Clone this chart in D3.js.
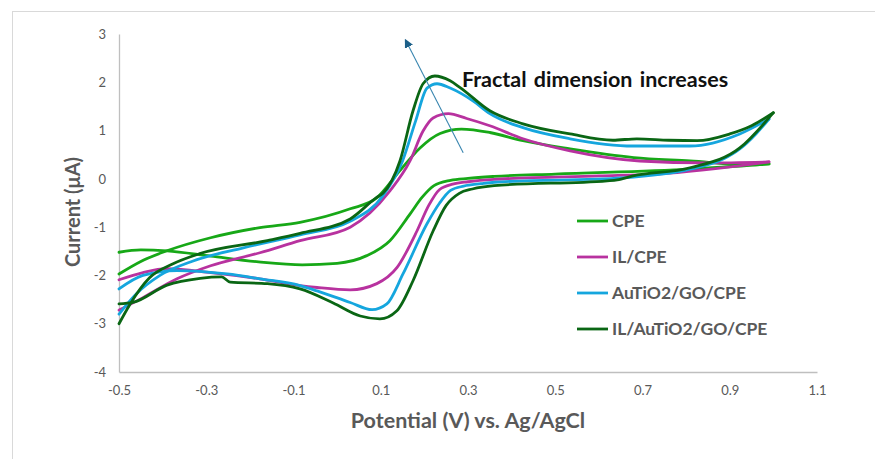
<!DOCTYPE html>
<html>
<head>
<meta charset="utf-8">
<script src="https://cdn.jsdelivr.net/npm/d3@7"></script>
<style>
  body { margin: 0; background: #fff; }
  svg { display: block; }
</style>
</head>
<body>
<div id="chart"></div>
<script>
// cyclic voltammograms: forward (anodic) and reverse (cathodic) branches, [E (V), I (uA)]
const seriesNames = ['CPE', 'IL/CPE', 'AuTiO2/GO/CPE', 'IL/AuTiO2/GO/CPE'];
const seriesColors = ['#17a817', '#b8329f', '#15a6de', '#0a6614'];

const cpeForward = [[-0.5,-1.97],[-0.45,-1.71],[-0.39,-1.49],[-0.29,-1.22],[-0.177,-1.01],[-0.085,-0.9],[0.03,-0.62],[0.09,-0.4],[0.144,0.17],[0.19,0.64],[0.236,0.94],[0.285,1.03],[0.35,0.96],[0.426,0.79],[0.534,0.62],[0.68,0.44],[0.809,0.37],[0.946,0.29],[0.99,0.31]];
const cpeReverse = [[-0.5,-1.52],[-0.45,-1.47],[-0.39,-1.49],[-0.29,-1.6],[-0.18,-1.72],[-0.08,-1.78],[0.0,-1.75],[0.068,-1.59],[0.121,-1.28],[0.167,-0.73],[0.195,-0.38],[0.222,-0.14],[0.26,-0.03],[0.3,0.01],[0.36,0.05],[0.5,0.1],[0.809,0.2],[0.99,0.31]];

const ilForward = [[-0.5,-2.72],[-0.445,-2.46],[-0.367,-2.07],[-0.29,-1.8],[-0.177,-1.53],[-0.085,-1.28],[0.03,-1.0],[0.121,-0.25],[0.167,0.37],[0.197,0.99],[0.22,1.26],[0.255,1.35],[0.297,1.25],[0.35,1.1],[0.426,0.83],[0.534,0.58],[0.694,0.37],[0.848,0.33],[0.99,0.35]];
const ilReverse = [[-0.5,-2.09],[-0.445,-1.94],[-0.39,-1.86],[-0.29,-1.94],[-0.177,-2.07],[-0.085,-2.21],[-0.046,-2.25],[0.03,-2.3],[0.091,-2.17],[0.137,-1.84],[0.183,-1.08],[0.21,-0.55],[0.235,-0.22],[0.265,-0.11],[0.3,-0.06],[0.36,-0.01],[0.6,0.06],[0.733,0.1],[0.99,0.35]];

const auForward = [[-0.5,-2.8],[-0.46,-2.38],[-0.406,-2.0],[-0.33,-1.7],[-0.215,-1.43],[-0.085,-1.16],[0.03,-0.88],[0.105,-0.35],[0.15,0.37],[0.18,1.2],[0.206,1.88],[0.229,1.97],[0.259,1.88],[0.312,1.61],[0.35,1.35],[0.426,1.06],[0.534,0.83],[0.678,0.68],[0.809,0.68],[0.923,0.93],[0.99,1.24]];
const auReverse = [[-0.5,-2.28],[-0.445,-2.0],[-0.367,-1.9],[-0.252,-1.97],[-0.177,-2.07],[-0.085,-2.21],[-0.046,-2.32],[0.03,-2.56],[0.08,-2.71],[0.114,-2.59],[0.151,-1.97],[0.206,-0.93],[0.235,-0.5],[0.26,-0.24],[0.29,-0.15],[0.33,-0.1],[0.36,-0.07],[0.655,0.02],[0.809,0.2],[0.885,0.41],[0.923,0.62],[0.96,0.93],[0.99,1.24]];

const ilAuForward = [[-0.5,-3.0],[-0.475,-2.6],[-0.43,-2.05],[-0.376,-1.76],[-0.315,-1.55],[-0.16,-1.28],[-0.085,-1.13],[0.03,-0.83],[0.09,-0.39],[0.105,-0.3],[0.144,0.37],[0.174,1.41],[0.197,1.97],[0.224,2.13],[0.259,2.03],[0.282,1.89],[0.35,1.41],[0.426,1.14],[0.534,0.93],[0.632,0.8],[0.687,0.83],[0.76,0.8],[0.825,0.79],[0.9,0.93],[0.95,1.1],[1.0,1.37]];
const ilAuReverse = [[-0.5,-2.59],[-0.468,-2.56],[-0.39,-2.2],[-0.314,-2.06],[-0.265,-2.03],[-0.245,-2.14],[-0.16,-2.17],[-0.085,-2.28],[-0.009,-2.57],[0.053,-2.84],[0.098,-2.9],[0.137,-2.73],[0.174,-2.11],[0.22,-1.08],[0.25,-0.55],[0.28,-0.3],[0.31,-0.21],[0.36,-0.14],[0.619,-0.04],[0.642,-0.02],[0.678,0.06],[0.809,0.23],[0.923,0.64],[1.0,1.37]];

const branches = [
  [cpeForward, cpeReverse],
  [ilForward, ilReverse],
  [auForward, auReverse],
  [ilAuForward, ilAuReverse]
];

const xTicks = [-0.5, -0.3, -0.1, 0.1, 0.3, 0.5, 0.7, 0.9, 1.1];
const yTicks = [-4, -3, -2, -1, 0, 1, 2, 3];

// annotation arrow (tail -> head) in data units
const arrowTail = [0.289, 0.54];
const arrowHead = [0.16, 2.82];
const annotation = 'Fractal dimension increases';

const width = 875, height = 459;
const font = 'Lato, "Open Sans", sans-serif';
const grey = '#595959';

const svg = d3.select('#chart').append('svg')
  .attr('width', width)
  .attr('height', height);

svg.append('rect')
  .attr('x', 12.5).attr('y', 11.5)
  .attr('width', 900).attr('height', 500)
  .attr('fill', '#fff')
  .attr('stroke', '#d9d9d9');

const x = d3.scaleLinear().domain([-0.5, 1.1]).range([119, 817]);
const y = d3.scaleLinear().domain([-4, 3]).range([372, 34]);

// axes
const xAxis = svg.append('g')
  .attr('transform', `translate(0,${y(-4)})`)
  .call(d3.axisBottom(x).tickValues(xTicks).tickSize(0).tickPadding(14).tickFormat(d3.format('.1f')));
const yAxis = svg.append('g')
  .attr('transform', `translate(${x(-0.5)},0)`)
  .call(d3.axisLeft(y).tickValues(yTicks).tickSize(0).tickPadding(13).tickFormat(d3.format('d')));

[xAxis, yAxis].forEach(g => {
  g.select('.domain').attr('stroke', '#bfbfbf').attr('stroke-width', 1.3);
  g.selectAll('text')
    .attr('fill', grey)
    .style('font-family', font)
    .style('font-size', '13px');
});
yAxis.selectAll('text').text(d => d < 0 ? '-' + Math.abs(d) : d);
xAxis.selectAll('text').text(d => d3.format('.1f')(d).replace('\u2212', '-'));

// curves
const line = d3.line()
  .x(d => x(d[0]))
  .y(d => y(d[1]))
  .curve(d3.curveMonotoneX);

branches.forEach((pair, i) => {
  pair.forEach(branch => {
    svg.append('path')
      .datum(branch)
      .attr('d', line)
      .attr('fill', 'none')
      .attr('stroke', seriesColors[i])
      .attr('stroke-width', 2.8)
      .attr('stroke-linejoin', 'round')
      .attr('stroke-linecap', 'round');
  });
});

// arrow
svg.append('defs').append('marker')
  .attr('id', 'head')
  .attr('viewBox', '0 0 10 10')
  .attr('refX', 5).attr('refY', 5)
  .attr('markerWidth', 9).attr('markerHeight', 9)
  .attr('markerUnits', 'userSpaceOnUse')
  .attr('orient', 'auto')
  .append('path')
  .attr('d', 'M0,0 L10,5 L0,10 Z')
  .attr('fill', '#1c5f88');

svg.append('line')
  .attr('x1', x(arrowTail[0])).attr('y1', y(arrowTail[1]))
  .attr('x2', x(arrowHead[0])).attr('y2', y(arrowHead[1]))
  .attr('stroke', '#3a86b0')
  .attr('stroke-width', 1.1)
  .attr('marker-end', 'url(#head)');

svg.append('text')
  .attr('x', x(0.286)).attr('y', y(1.9))
  .attr('fill', '#111')
  .style('font-family', font)
  .style('font-weight', 'bold')
  .style('font-size', '21.5px')
  .style('word-spacing', '2px')
  .text(annotation);

// legend
const legend = svg.append('g');
seriesNames.forEach((name, i) => {
  const ly = 221 + i * 36;
  legend.append('line')
    .attr('x1', 577).attr('x2', 608)
    .attr('y1', ly).attr('y2', ly)
    .attr('stroke', seriesColors[i])
    .attr('stroke-width', 2.8);
  legend.append('text')
    .attr('x', 612).attr('y', ly)
    .attr('dy', '0.35em')
    .attr('fill', grey)
    .style('font-family', font)
    .style('font-weight', 'bold')
    .style('font-size', '17.5px')
    .text(name);
});

// axis titles
svg.append('text')
  .attr('x', 468).attr('y', 428)
  .attr('text-anchor', 'middle')
  .attr('fill', grey)
  .style('font-family', font)
  .style('font-weight', 'bold')
  .style('font-size', '21.5px')
  .text('Potential (V) vs. Ag/AgCl');

svg.append('text')
  .attr('transform', 'translate(80,212) rotate(-90)')
  .attr('text-anchor', 'middle')
  .attr('fill', grey)
  .style('font-family', font)
  .style('font-weight', 'bold')
  .style('font-size', '20px')
  .text('Current (\u03bcA)');
</script>
</body>
</html>
